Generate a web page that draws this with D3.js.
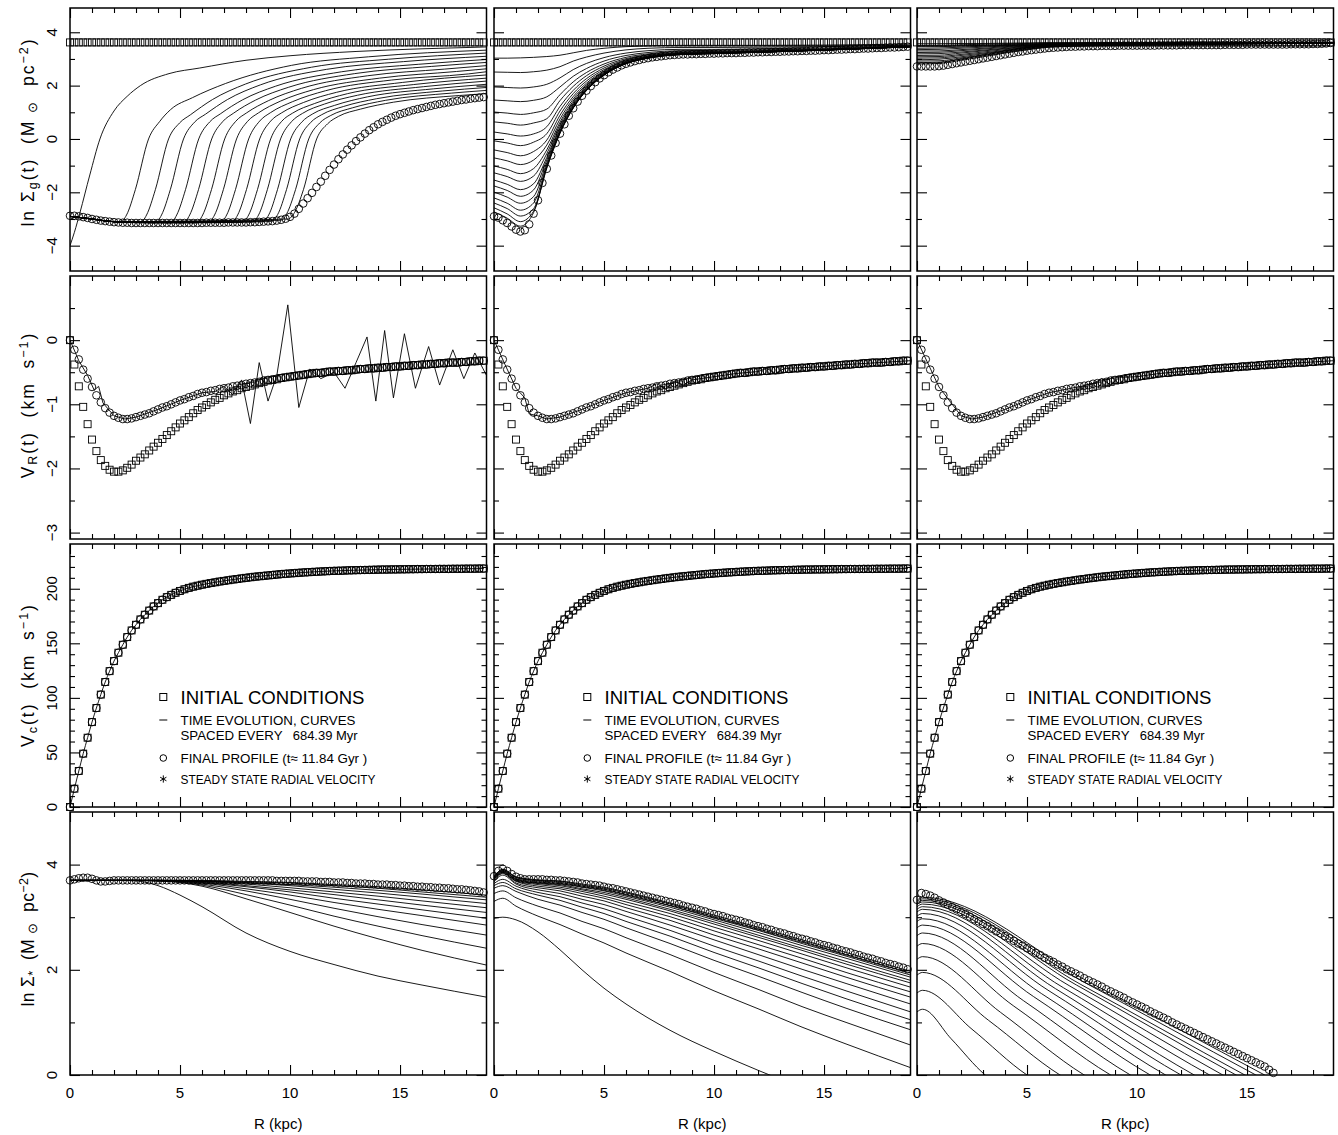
<!DOCTYPE html>
<html>
<head>
<meta charset="utf-8">
<script src="https://cdn.jsdelivr.net/npm/d3@7"></script>
<style>
  html, body { margin: 0; padding: 0; background: #fff; }
  svg text { font-family: "Liberation Sans", Arial, sans-serif; fill: #000; }
</style>
</head>
<body>
<svg id="chart" width="1338" height="1135"></svg>
<script>
// ====================== DATA ======================
// marker sampling radii (kpc): 0, 0.2, ... 18.8
const radiusGrid = d3.range(95).map(i => +(i * 0.2).toFixed(1));

const xMajorTicks = [0, 5, 10, 15];
const xTickLabels = ["0", "5", "10", "15"];
const yMajorTicks = [[-4, -2, 0, 2, 4], [-3, -2, -1, 0], [0, 50, 100, 150, 200], [0, 2, 4]];
const yTickLabels = [["−4", "−2", "0", "2", "4"], ["−3", "−2", "−1", "0"], ["0", "50", "100", "150", "200"], ["0", "2", "4"]];
const yMinorTicks = [[-3, -1, 1, 3], [-2.5, -1.5, -0.5, 0.5],
  [10, 20, 30, 40, 60, 70, 80, 90, 110, 120, 130, 140, 160, 170, 180, 190, 210, 220, 230], [1, 3]];
const yDomains = [[-4.95, 4.91], [-3.1, 1.0], [0, 241], [0, 5]];

const legendLines = ["INITIAL CONDITIONS", "TIME EVOLUTION, CURVES", "SPACED EVERY", "684.39 Myr",
  "FINAL PROFILE (t≈  11.84 Gyr )", "STEADY STATE RADIAL VELOCITY"];

// ---- Row 1: ln Sigma_gas ----
const gasInit = [
 3.62,3.62,3.62,3.62,3.62,3.62,3.62,3.62,3.62,3.62,
 3.62,3.62,3.62,3.62,3.62,3.62,3.62,3.62,3.62,3.62,
 3.62,3.62,3.62,3.62,3.62,3.62,3.62,3.62,3.62,3.62,
 3.62,3.62,3.62,3.62,3.62,3.62,3.62,3.62,3.62,3.62,
 3.62,3.62,3.62,3.62,3.62,3.62,3.62,3.62,3.62,3.62,
 3.62,3.62,3.62,3.62,3.62,3.62,3.62,3.62,3.62,3.62,
 3.62,3.62,3.62,3.62,3.62,3.62,3.62,3.62,3.62,3.62,
 3.62,3.62,3.62,3.62,3.62,3.62,3.62,3.62,3.62,3.62,
 3.62,3.62,3.62,3.62,3.62,3.62,3.62,3.62,3.62,3.62,
 3.62,3.62,3.62,3.62,3.62];

const gasFinal1 = [
 -2.88,-2.88,-2.90,-2.93,-2.96,-3.00,-3.03,-3.06,-3.08,-3.10,
 -3.12,-3.13,-3.14,-3.14,-3.15,-3.15,-3.15,-3.15,-3.15,-3.15,
 -3.15,-3.15,-3.15,-3.15,-3.15,-3.15,-3.15,-3.15,-3.15,-3.15,
 -3.15,-3.14,-3.14,-3.14,-3.14,-3.14,-3.13,-3.13,-3.13,-3.13,
 -3.13,-3.12,-3.12,-3.11,-3.10,-3.09,-3.08,-3.06,-3.03,-2.99,
 -2.92,-2.80,-2.62,-2.42,-2.22,-2.02,-1.80,-1.60,-1.38,-1.16,
 -0.96,-0.76,-0.58,-0.40,-0.24,-0.08,0.06,0.20,0.33,0.44,
 0.55,0.64,0.72,0.80,0.87,0.93,0.98,1.03,1.08,1.12,
 1.16,1.20,1.24,1.28,1.31,1.34,1.37,1.40,1.43,1.46,
 1.48,1.51,1.53,1.55,1.57];

const gasFinal2 = [
 -2.90,-2.95,-3.05,-3.15,-3.28,-3.40,-3.47,-3.42,-3.20,-2.80,
 -2.30,-1.65,-1.12,-0.62,-0.15,0.20,0.55,0.87,1.15,1.40,
 1.62,1.81,1.98,2.13,2.27,2.39,2.50,2.60,2.68,2.76,
 2.82,2.87,2.92,2.96,3.00,3.03,3.06,3.08,3.10,3.12,
 3.14,3.15,3.16,3.17,3.17,3.18,3.18,3.19,3.19,3.20,
 3.20,3.21,3.21,3.22,3.22,3.22,3.23,3.23,3.24,3.24,
 3.25,3.25,3.26,3.26,3.27,3.27,3.28,3.28,3.29,3.29,
 3.30,3.30,3.31,3.31,3.32,3.33,3.33,3.34,3.35,3.35,
 3.36,3.37,3.37,3.38,3.39,3.39,3.40,3.41,3.41,3.42,
 3.43,3.43,3.44,3.45,3.46];

const gasFinal3 = [
 2.72,2.72,2.72,2.72,2.72,2.73,2.75,2.78,2.81,2.84,
 2.87,2.90,2.93,2.96,2.99,3.02,3.05,3.08,3.11,3.14,
 3.17,3.20,3.23,3.26,3.28,3.31,3.33,3.35,3.37,3.39,
 3.41,3.42,3.43,3.44,3.45,3.46,3.46,3.47,3.47,3.48,
 3.48,3.48,3.49,3.49,3.49,3.49,3.50,3.50,3.50,3.50,
 3.50,3.50,3.50,3.50,3.50,3.51,3.51,3.51,3.51,3.51,
 3.52,3.52,3.52,3.52,3.52,3.52,3.52,3.52,3.52,3.52,
 3.53,3.53,3.53,3.53,3.53,3.54,3.54,3.54,3.54,3.54,
 3.54,3.54,3.54,3.54,3.54,3.55,3.55,3.55,3.55,3.55,
 3.56,3.56,3.57,3.58,3.60];

// time-evolution curves, column 1: [R, ln Sigma] knots
const gasCurves1 = [
 [[0,-4.0],[0.2,-3.5],[0.45,-2.77],[0.9,-1.35],[1.36,0],[2.0,1.05],[2.6,1.6],[3.2,2.0],[4.5,2.45],[5.9,2.66],[8,2.95],[10,3.12],[13,3.28],[16,3.38],[18.93,3.45]],
 [[0,-2.9],[1,-3.0],[2.27,-3.12],[2.57,-2.85],[2.97,-1.9],[3.57,0],[4.07,0.65],[4.57,1.1],[5.57,1.55],[7.07,2.08],[10.07,2.76],[13.57,3.08],[18.93,3.33]],
 [[0,-2.9],[1,-3.0],[2,-3.1],[3.18,-3.14],[3.48,-2.85],[3.88,-1.9],[4.48,0],[4.98,0.60],[5.48,0.91],[6.48,1.48],[7.98,2.06],[10.98,2.69],[14.48,2.99],[18.93,3.22]],
 [[0,-2.9],[1,-3.0],[2,-3.1],[3.86,-3.15],[4.16,-2.85],[4.56,-1.9],[5.16,0],[5.66,0.63],[6.16,0.93],[7.16,1.48],[8.66,2.03],[11.66,2.61],[15.16,2.90],[18.93,3.10]],
 [[0,-2.9],[1,-3.0],[2,-3.1],[4.55,-3.15],[4.85,-2.85],[5.25,-1.9],[5.85,0],[6.35,0.64],[6.85,0.95],[7.85,1.47],[9.35,1.98],[12.35,2.52],[15.85,2.80],[18.93,2.98]],
 [[0,-2.9],[1,-3.0],[2,-3.1],[5.14,-3.15],[5.44,-2.85],[5.84,-1.9],[6.44,0],[6.94,0.65],[7.44,0.97],[8.44,1.46],[9.94,1.94],[12.94,2.45],[16.44,2.72],[18.93,2.87]],
 [[0,-2.9],[1,-3.0],[2,-3.1],[5.73,-3.15],[6.03,-2.85],[6.43,-1.9],[7.03,0],[7.53,0.66],[8.03,0.98],[9.03,1.44],[10.53,1.90],[13.53,2.37],[17.03,2.62],[18.93,2.75]],
 [[0,-2.9],[1,-3.0],[2,-3.1],[6.27,-3.14],[6.57,-2.85],[6.97,-1.9],[7.57,0],[8.07,0.66],[8.57,0.98],[9.57,1.42],[11.07,1.85],[14.07,2.28],[17.57,2.53],[18.93,2.63]],
 [[0,-2.9],[1,-3.0],[2,-3.1],[6.82,-3.14],[7.12,-2.85],[7.52,-1.9],[8.12,0],[8.62,0.67],[9.12,0.99],[10.12,1.40],[11.62,1.81],[14.62,2.21],[18.12,2.44],[18.93,2.52]],
 [[0,-2.9],[1,-3.0],[2,-3.1],[7.32,-3.13],[7.62,-2.85],[8.02,-1.9],[8.62,0],[9.12,0.67],[9.62,0.98],[10.62,1.37],[12.12,1.75],[15.12,2.12],[18.93,2.40]],
 [[0,-2.9],[1,-3.0],[2,-3.1],[7.82,-3.13],[8.12,-2.85],[8.52,-1.9],[9.12,0],[9.62,0.66],[10.12,0.97],[11.12,1.33],[12.62,1.70],[15.62,2.04],[18.93,2.28]],
 [[0,-2.9],[1,-3.0],[2,-3.1],[8.27,-3.12],[8.57,-2.85],[8.97,-1.9],[9.57,0],[10.07,0.65],[10.57,0.96],[11.57,1.31],[13.07,1.64],[16.07,1.96],[18.93,2.17]],
 [[0,-2.9],[1,-3.0],[2,-3.1],[8.73,-3.11],[9.03,-2.85],[9.43,-1.9],[10.03,0],[10.53,0.63],[11.03,0.94],[12.03,1.26],[13.53,1.58],[16.53,1.88],[18.93,2.05]],
 [[0,-2.9],[1,-3.0],[2,-3.1],[9.14,-3.09],[9.44,-2.83],[9.84,-1.9],[10.44,0],[10.94,0.62],[11.44,0.91],[12.44,1.22],[13.94,1.51],[16.94,1.80],[18.93,1.93]],
 [[0,-2.9],[1,-3.0],[2,-3.1],[9.55,-3.05],[9.85,-2.8],[10.25,-1.9],[10.85,0],[11.35,0.60],[11.85,0.88],[12.85,1.17],[14.35,1.45],[17.35,1.72],[18.93,1.82]],
 [[0,-2.9],[1,-3.0],[2,-3.1],[9.91,-3.0],[10.21,-2.75],[10.61,-1.9],[11.21,0],[11.71,0.57],[12.21,0.85],[13.21,1.12],[14.71,1.38],[17.71,1.63],[18.93,1.70]]
];

// column 2 curves, sampled at common radii
const gasKnots2 = [0,0.6,1.2,1.8,2.4,3,3.6,4.2,5,6,7,8.5,10,12,15,18.93];
const gasCurves2 = [
 [3.03,3.03,3.04,3.06,3.09,3.14,3.23,3.32,3.40,3.46,3.49,3.51,3.51,3.51,3.52,3.56],
 [2.51,2.50,2.49,2.52,2.58,2.71,2.92,3.07,3.22,3.34,3.40,3.43,3.43,3.44,3.46,3.52],
 [1.95,1.93,1.91,1.95,2.05,2.29,2.60,2.83,3.05,3.22,3.31,3.36,3.36,3.38,3.41,3.49],
 [1.46,1.43,1.40,1.45,1.58,1.95,2.35,2.64,2.92,3.13,3.24,3.31,3.32,3.34,3.38,3.48],
 [1.01,0.97,0.92,0.98,1.12,1.66,2.14,2.49,2.81,3.06,3.19,3.27,3.28,3.31,3.36,3.47],
 [0.64,0.59,0.52,0.60,0.76,1.44,1.97,2.37,2.73,3.01,3.15,3.24,3.26,3.29,3.35,3.47],
 [0.26,0.19,0.11,0.19,0.46,1.22,1.82,2.26,2.66,2.97,3.12,3.22,3.24,3.28,3.34,3.47],
 [-0.07,-0.15,-0.25,-0.12,0.20,1.05,1.70,2.17,2.60,2.93,3.10,3.21,3.23,3.27,3.34,3.46],
 [-0.41,-0.51,-0.63,-0.47,-0.04,0.89,1.59,2.09,2.55,2.91,3.08,3.19,3.22,3.26,3.34,3.46],
 [-0.71,-0.82,-0.96,-0.79,-0.23,0.75,1.50,2.03,2.51,2.88,3.07,3.185,3.22,3.26,3.335,3.46],
 [-1.01,-1.14,-1.30,-1.11,-0.41,0.63,1.42,1.98,2.48,2.865,3.055,3.18,3.215,3.255,3.335,3.46],
 [-1.27,-1.41,-1.59,-1.39,-0.55,0.54,1.35,1.93,2.46,2.85,3.05,3.18,3.21,3.255,3.335,3.46],
 [-1.54,-1.70,-1.90,-1.68,-0.69,0.45,1.30,1.90,2.44,2.84,3.045,3.175,3.21,3.255,3.335,3.46],
 [-1.76,-1.93,-2.15,-1.91,-0.79,0.39,1.26,1.87,2.42,2.835,3.04,3.17,3.205,3.255,3.335,3.46],
 [-1.99,-2.18,-2.41,-2.16,-0.89,0.33,1.22,1.85,2.41,2.83,3.035,3.17,3.205,3.255,3.335,3.46],
 [-2.21,-2.41,-2.67,-2.40,-0.97,0.28,1.19,1.84,2.40,2.83,3.035,3.17,3.205,3.25,3.335,3.46],
 [-2.40,-2.61,-2.89,-2.61,-1.03,0.25,1.17,1.83,2.40,2.83,3.035,3.17,3.205,3.25,3.335,3.46],
 [-2.58,-2.81,-3.10,-2.71,-1.07,0.22,1.16,1.82,2.39,2.83,3.035,3.17,3.2,3.25,3.33,3.46],
 [-2.73,-2.97,-3.27,-2.76,-1.10,0.21,1.155,1.81,2.39,2.82,3.03,3.17,3.2,3.25,3.33,3.46]
];

// column 3 curves
const gasKnots3 = [0,1,2,3,4,5,6,8,12,18.93];
const gasCurves3 = [
 [3.57,3.57,3.58,3.58,3.59,3.60,3.61,3.61,3.61,3.62],
 [3.51,3.51,3.53,3.55,3.57,3.58,3.60,3.60,3.61,3.62],
 [3.46,3.46,3.49,3.51,3.54,3.56,3.58,3.59,3.60,3.62],
 [3.40,3.41,3.44,3.48,3.51,3.55,3.57,3.59,3.60,3.62],
 [3.35,3.36,3.40,3.44,3.49,3.53,3.56,3.58,3.59,3.61],
 [3.30,3.30,3.35,3.40,3.46,3.51,3.55,3.57,3.58,3.61],
 [3.24,3.25,3.31,3.37,3.43,3.49,3.54,3.56,3.58,3.61],
 [3.19,3.20,3.26,3.33,3.40,3.47,3.52,3.55,3.57,3.61],
 [3.13,3.14,3.22,3.30,3.38,3.45,3.51,3.54,3.57,3.61],
 [3.08,3.09,3.17,3.26,3.35,3.43,3.50,3.54,3.56,3.61],
 [3.03,3.04,3.13,3.22,3.32,3.42,3.49,3.53,3.55,3.61],
 [2.97,2.99,3.08,3.19,3.30,3.40,3.48,3.52,3.55,3.61],
 [2.92,2.93,3.04,3.15,3.27,3.38,3.46,3.51,3.54,3.60],
 [2.86,2.88,2.99,3.12,3.24,3.36,3.45,3.50,3.54,3.60],
 [2.81,2.83,2.95,3.08,3.22,3.34,3.44,3.49,3.53,3.60]
];

// ---- Row 2: radial velocity ----
const vrInit = [
 0,-0.38,-0.72,-1.04,-1.31,-1.55,-1.73,-1.87,-1.96,-2.02,
 -2.05,-2.05,-2.03,-1.99,-1.94,-1.88,-1.83,-1.78,-1.72,-1.66,
 -1.60,-1.54,-1.48,-1.42,-1.36,-1.30,-1.25,-1.20,-1.14,-1.09,
 -1.05,-1.01,-0.97,-0.93,-0.90,-0.86,-0.83,-0.80,-0.78,-0.75,
 -0.73,-0.71,-0.69,-0.67,-0.65,-0.63,-0.62,-0.61,-0.59,-0.58,
 -0.57,-0.56,-0.55,-0.54,-0.53,-0.52,-0.51,-0.51,-0.50,-0.49,
 -0.49,-0.48,-0.48,-0.47,-0.47,-0.46,-0.45,-0.45,-0.44,-0.44,
 -0.43,-0.43,-0.42,-0.42,-0.41,-0.41,-0.40,-0.40,-0.39,-0.39,
 -0.38,-0.38,-0.37,-0.37,-0.36,-0.36,-0.35,-0.35,-0.35,-0.34,
 -0.34,-0.33,-0.33,-0.32,-0.32];

const vrFinal = [
 0,-0.15,-0.30,-0.46,-0.60,-0.73,-0.86,-0.97,-1.06,-1.13,
 -1.18,-1.21,-1.23,-1.23,-1.22,-1.20,-1.18,-1.16,-1.14,-1.11,
 -1.08,-1.05,-1.03,-1.00,-0.97,-0.94,-0.92,-0.89,-0.87,-0.84,
 -0.82,-0.81,-0.79,-0.78,-0.76,-0.75,-0.74,-0.72,-0.71,-0.70,
 -0.68,-0.67,-0.66,-0.65,-0.63,-0.62,-0.61,-0.60,-0.59,-0.58,
 -0.57,-0.56,-0.55,-0.54,-0.53,-0.52,-0.51,-0.51,-0.50,-0.49,
 -0.49,-0.48,-0.48,-0.47,-0.47,-0.46,-0.45,-0.45,-0.44,-0.44,
 -0.43,-0.43,-0.42,-0.42,-0.41,-0.41,-0.40,-0.40,-0.39,-0.39,
 -0.38,-0.38,-0.37,-0.37,-0.36,-0.36,-0.35,-0.35,-0.35,-0.34,
 -0.34,-0.33,-0.33,-0.32,-0.32];

const vrLine1 = [[0,0],[0.4,-0.32],[0.8,-0.55],[1.1,-0.78],[1.3,-0.72],[1.5,-0.98],[2,-1.18],[2.5,-1.23],[3,-1.2],[4,-1.08],[5,-0.94],[6,-0.82],[6.6,-0.8],[7.0,-0.72],[7.4,-0.85],[7.8,-0.62],[8.2,-1.3],[8.6,-0.35],[9.0,-0.95],[9.4,-0.55],[9.9,0.55],[10.4,-1.05],[10.9,-0.45],[11.4,-0.6],[12,-0.5],[12.5,-0.75],[13.0,-0.35],[13.5,0.05],[13.9,-0.95],[14.3,0.15],[14.7,-0.9],[15.2,0.1],[15.7,-0.75],[16.3,-0.1],[16.8,-0.7],[17.4,-0.15],[17.9,-0.6],[18.4,-0.2],[18.93,-0.55]];
const vrLine2 = [[0,0],[0.5,-0.38],[1,-0.75],[1.4,-0.9],[1.6,-1.15],[2,-1.18],[2.4,-1.23],[3,-1.2],[4,-1.08],[5,-0.94],[6,-0.82],[7,-0.75],[7.4,-0.68],[7.8,-0.76],[8.2,-0.64],[8.6,-0.70],[9,-0.62],[10,-0.57],[11,-0.52],[12,-0.49],[12.4,-0.44],[12.8,-0.52],[13.2,-0.44],[14,-0.43],[15,-0.41],[16,-0.38],[17,-0.36],[18,-0.34],[18.93,-0.32]];
const vrLine3 = [[0,0],[1,-0.73],[2,-1.18],[2.5,-1.23],[3,-1.2],[4,-1.08],[5,-0.94],[6,-0.82],[7,-0.75],[8,-0.68],[8.4,-0.6],[8.8,-0.7],[9.2,-0.58],[10,-0.57],[11,-0.52],[12,-0.49],[13,-0.46],[14,-0.43],[15,-0.41],[16,-0.38],[17,-0.36],[18,-0.34],[18.93,-0.32]];

// ---- Row 3: circular velocity ----
const vcurve = [
 0,16.8,33.0,48.9,63.5,77.8,90.7,103.0,114.5,124.5,
 133.7,141.4,148.7,155.7,161.8,167.0,171.9,176.2,180.0,183.8,
 186.8,189.9,192.3,194.4,196.3,198.0,199.5,200.8,201.9,202.8,
 203.7,204.5,205.2,205.9,206.6,207.2,207.8,208.4,208.9,209.5,
 210.0,210.5,211.0,211.4,211.8,212.2,212.6,213.0,213.4,213.7,
 214.0,214.3,214.6,214.9,215.1,215.4,215.6,215.8,216.0,216.2,
 216.4,216.5,216.6,216.8,216.9,217.0,217.1,217.2,217.3,217.4,
 217.5,217.6,217.6,217.7,217.7,217.8,217.8,217.9,217.9,218.0,
 218.0,218.1,218.1,218.1,218.2,218.2,218.2,218.3,218.3,218.3,
 218.4,218.4,218.4,218.5,218.5];

// ---- Row 4: ln Sigma_star ----
const starFinal1 = [
 3.70,3.72,3.74,3.75,3.75,3.73,3.70,3.68,3.68,3.69,
 3.70,3.70,3.70,3.70,3.70,3.70,3.70,3.70,3.70,3.70,
 3.70,3.70,3.70,3.70,3.70,3.70,3.70,3.70,3.70,3.70,
 3.70,3.70,3.70,3.70,3.70,3.70,3.70,3.70,3.70,3.70,
 3.70,3.70,3.70,3.70,3.70,3.70,3.70,3.69,3.69,3.69,
 3.69,3.69,3.69,3.68,3.68,3.68,3.68,3.67,3.67,3.67,
 3.66,3.66,3.66,3.65,3.65,3.64,3.64,3.64,3.63,3.63,
 3.62,3.62,3.62,3.61,3.61,3.60,3.60,3.59,3.59,3.58,
 3.58,3.57,3.57,3.56,3.56,3.55,3.55,3.54,3.53,3.53,
 3.52,3.51,3.50,3.49,3.47];

const starFinal2 = [
 3.78,3.88,3.92,3.88,3.82,3.77,3.74,3.72,3.72,3.72,
 3.72,3.72,3.71,3.71,3.70,3.70,3.69,3.68,3.67,3.66,
 3.64,3.63,3.62,3.61,3.60,3.58,3.56,3.55,3.53,3.51,
 3.49,3.47,3.45,3.43,3.41,3.39,3.37,3.35,3.33,3.31,
 3.29,3.27,3.25,3.22,3.20,3.18,3.16,3.13,3.11,3.08,
 3.06,3.04,3.02,2.99,2.97,2.95,2.93,2.90,2.88,2.85,
 2.83,2.81,2.78,2.76,2.73,2.71,2.69,2.66,2.64,2.61,
 2.59,2.57,2.54,2.52,2.49,2.47,2.45,2.42,2.40,2.37,
 2.35,2.33,2.30,2.28,2.25,2.23,2.21,2.18,2.16,2.13,
 2.11,2.09,2.06,2.04,2.01];

const starFinal3 = [
 3.33,3.46,3.44,3.41,3.37,3.32,3.28,3.24,3.19,3.15,
 3.10,3.06,3.01,2.96,2.92,2.87,2.83,2.78,2.73,2.69,
 2.64,2.60,2.55,2.50,2.46,2.41,2.37,2.32,2.28,2.23,
 2.19,2.15,2.10,2.06,2.01,1.97,1.93,1.89,1.84,1.80,
 1.76,1.72,1.68,1.63,1.59,1.55,1.51,1.47,1.42,1.38,
 1.34,1.30,1.26,1.21,1.17,1.13,1.09,1.05,1.00,0.96,
 0.92,0.88,0.84,0.80,0.76,0.72,0.68,0.64,0.60,0.56,
 0.52,0.48,0.44,0.40,0.36,0.32,0.28,0.24,0.20,0.16,
 0.10,0.04];

const starKnots1 = [0,2,3,4,5,6,8,10,12,14,16,18.93];
const starCurves1 = [
 [3.70,3.70,3.69,3.60,3.42,3.20,2.70,2.35,2.10,1.88,1.71,1.48],
 [3.70,3.70,3.70,3.69,3.66,3.59,3.35,3.09,2.83,2.59,2.37,2.09],
 [3.70,3.70,3.70,3.69,3.67,3.61,3.43,3.23,3.02,2.83,2.65,2.41],
 [3.70,3.70,3.70,3.69,3.68,3.63,3.50,3.34,3.17,3.01,2.86,2.66],
 [3.70,3.70,3.70,3.69,3.68,3.65,3.54,3.42,3.28,3.15,3.03,2.85],
 [3.70,3.70,3.70,3.70,3.69,3.66,3.58,3.48,3.36,3.25,3.14,2.98],
 [3.70,3.70,3.70,3.70,3.69,3.67,3.60,3.52,3.43,3.33,3.23,3.09],
 [3.70,3.70,3.70,3.70,3.69,3.68,3.63,3.56,3.48,3.40,3.31,3.18],
 [3.70,3.70,3.70,3.70,3.69,3.68,3.65,3.60,3.53,3.46,3.38,3.26],
 [3.70,3.70,3.70,3.70,3.70,3.69,3.66,3.62,3.57,3.51,3.44,3.33],
 [3.70,3.70,3.70,3.70,3.70,3.69,3.67,3.65,3.60,3.55,3.48,3.38],
 [3.70,3.70,3.70,3.70,3.70,3.70,3.68,3.66,3.62,3.58,3.52,3.42]
];

const starKnots2 = [0,0.4,1,2,3,4,5,6,8,10,12,14,16,18.93];
const starCurves2 = [
 [2.98,3.00,2.95,2.72,2.38,2.00,1.65,1.35,0.85,0.45,0.09,-0.25,-0.6,-1.1],
 [3.30,3.36,3.21,3.02,2.86,2.68,2.51,2.32,1.97,1.60,1.26,0.91,0.59,0.14],
 [3.45,3.50,3.37,3.21,3.08,2.92,2.78,2.61,2.29,1.95,1.63,1.30,1.00,0.57],
 [3.55,3.60,3.49,3.34,3.23,3.09,2.96,2.80,2.50,2.18,1.88,1.57,1.27,0.86],
 [3.60,3.66,3.54,3.42,3.32,3.19,3.07,2.92,2.64,2.33,2.04,1.74,1.45,1.05],
 [3.64,3.72,3.59,3.47,3.39,3.27,3.16,3.02,2.75,2.45,2.17,1.88,1.60,1.20],
 [3.67,3.80,3.63,3.52,3.45,3.34,3.24,3.11,2.85,2.57,2.29,2.01,1.74,1.35],
 [3.69,3.83,3.65,3.56,3.50,3.40,3.31,3.18,2.94,2.66,2.40,2.13,1.86,1.48],
 [3.71,3.85,3.68,3.59,3.54,3.45,3.36,3.24,3.01,2.74,2.48,2.22,1.95,1.58],
 [3.72,3.86,3.69,3.62,3.57,3.49,3.40,3.29,3.07,2.81,2.56,2.30,2.04,1.67],
 [3.73,3.87,3.71,3.64,3.60,3.52,3.44,3.34,3.12,2.87,2.62,2.37,2.11,1.75],
 [3.74,3.88,3.72,3.65,3.62,3.54,3.47,3.37,3.15,2.91,2.66,2.41,2.16,1.80],
 [3.75,3.89,3.73,3.67,3.64,3.57,3.50,3.40,3.19,2.95,2.71,2.46,2.22,1.86],
 [3.76,3.90,3.75,3.69,3.66,3.59,3.53,3.43,3.22,2.98,2.75,2.50,2.26,1.90],
 [3.77,3.91,3.76,3.70,3.68,3.61,3.55,3.46,3.25,3.01,2.78,2.54,2.29,1.94],
 [3.77,3.91,3.77,3.71,3.69,3.63,3.57,3.48,3.27,3.04,2.81,2.57,2.33,1.97]
];

const starCurves3 = [
 [[0,1.20],[0.25,1.25],[1.55,0.69],[3.1,0],[5.1,-0.45]],
 [[0,1.56],[0.25,1.61],[2.5,0.87],[5.0,0],[7,-0.45]],
 [[0,1.90],[0.25,1.95],[3.25,1.04],[6.5,0],[8.5,-0.45]],
 [[0,2.20],[0.25,2.25],[3.8,1.19],[7.6,0],[9.6,-0.45]],
 [[0,2.45],[0.25,2.50],[4.4,1.31],[8.8,0],[10.8,-0.45]],
 [[0,2.65],[0.25,2.70],[4.85,1.41],[9.7,0],[11.7,-0.45]],
 [[0,2.80],[0.25,2.85],[5.3,1.49],[10.6,0],[12.6,-0.45]],
 [[0,2.92],[0.25,2.97],[5.65,1.55],[11.3,0],[13.3,-0.45]],
 [[0,3.02],[0.25,3.07],[6.0,1.60],[12.0,0],[14,-0.45]],
 [[0,3.10],[0.25,3.15],[6.3,1.64],[12.6,0],[14.6,-0.45]],
 [[0,3.15],[0.25,3.20],[6.65,1.66],[13.3,0],[15.3,-0.45]],
 [[0,3.20],[0.25,3.25],[6.95,1.69],[13.9,0],[15.9,-0.45]],
 [[0,3.24],[0.25,3.29],[7.25,1.71],[14.5,0],[16.5,-0.45]],
 [[0,3.27],[0.25,3.32],[7.45,1.72],[14.9,0],[16.9,-0.45]],
 [[0,3.30],[0.25,3.35],[7.7,1.74],[15.4,0],[17.4,-0.45]],
 [[0,3.32],[0.25,3.38],[7.9,1.75],[15.8,0],[17.8,-0.45]]
];

// ====================== LAYOUT ======================
const COL_LEFT = [70, 494, 917];
const PANEL_W = 416.5;
const ROW_TOP = [8, 276, 544, 812];
const PANEL_H = 263;
const X_MAX = 18.93;

const svg = d3.select("#chart");
const defs = svg.append("defs");
svg.append("rect").attr("width", 1338).attr("height", 1135).attr("fill", "#fff");

const zipKnots = (knots, vals) => knots.map((r, i) => [r, vals[i]]).filter(d => d[1] !== undefined);
const zipGrid = vals => vals.map((v, i) => [radiusGrid[i], v]);

function drawPanel(row, col, spec) {
  const left = COL_LEFT[col], top = ROW_TOP[row];
  const x = d3.scaleLinear().domain([0, X_MAX]).range([left, left + PANEL_W]);
  const y = d3.scaleLinear().domain(yDomains[row]).range([top + PANEL_H, top]);
  const id = `clip${row}${col}`;
  defs.append("clipPath").attr("id", id).append("rect")
    .attr("x", left).attr("y", top).attr("width", PANEL_W).attr("height", PANEL_H);
  const g = svg.append("g");
  const lg = g.append("g").attr("clip-path", `url(#${id})`);
  const smooth = d3.line().x(d => x(d[0])).y(d => y(d[1])).curve(d3.curveMonotoneX);
  const straight = d3.line().x(d => x(d[0])).y(d => y(d[1]));
  (spec.curves || []).forEach(c => lg.append("path").attr("d", smooth(c))
    .attr("fill", "none").attr("stroke", "#000").attr("stroke-width", 0.9));
  (spec.zigzag || []).forEach(c => lg.append("path").attr("d", straight(c))
    .attr("fill", "none").attr("stroke", "#000").attr("stroke-width", 0.9));
  if (spec.squares) {
    g.append("g").selectAll("rect").data(zipGrid(spec.squares)).join("rect")
      .attr("x", d => x(d[0]) - 3.5).attr("y", d => y(d[1]) - 3.5)
      .attr("width", 7).attr("height", 7)
      .attr("fill", "none").attr("stroke", "#000").attr("stroke-width", 0.9);
  }
  if (spec.circles) {
    g.append("g").selectAll("circle").data(zipGrid(spec.circles)).join("circle")
      .attr("cx", d => x(d[0])).attr("cy", d => y(d[1])).attr("r", 3.8)
      .attr("fill", "none").attr("stroke", "#000").attr("stroke-width", 0.9);
  }
  // ticks on all four sides, pointing inward
  const xMinor = d3.range(1, 19).filter(v => v % 5 !== 0);
  const ax = g.append("g").attr("color", "#000");
  const addAxis = (axis, tr, size, vals) => ax.append("g").attr("transform", tr)
    .call(axis.tickValues(vals).tickSize(size).tickFormat(() => ""))
    .call(s => s.select(".domain").remove())
    .call(s => s.selectAll("line").attr("stroke-width", 1.1));
  addAxis(d3.axisBottom(x), `translate(0,${top + PANEL_H})`, -10, xMajorTicks);
  addAxis(d3.axisBottom(x), `translate(0,${top + PANEL_H})`, -5, xMinor);
  addAxis(d3.axisTop(x), `translate(0,${top})`, -10, xMajorTicks);
  addAxis(d3.axisTop(x), `translate(0,${top})`, -5, xMinor);
  addAxis(d3.axisLeft(y), `translate(${left},0)`, -10, yMajorTicks[row]);
  addAxis(d3.axisLeft(y), `translate(${left},0)`, -5, yMinorTicks[row]);
  addAxis(d3.axisRight(y), `translate(${left + PANEL_W},0)`, -10, yMajorTicks[row]);
  addAxis(d3.axisRight(y), `translate(${left + PANEL_W},0)`, -5, yMinorTicks[row]);
  g.append("rect").attr("x", left).attr("y", top).attr("width", PANEL_W).attr("height", PANEL_H)
    .attr("fill", "none").attr("stroke", "#000").attr("stroke-width", 1.5);

  if (col === 0) {
    yMajorTicks[row].forEach((v, i) => {
      g.append("text").attr("transform", `translate(52,${y(v)}) rotate(-90)`)
        .attr("text-anchor", "middle").attr("dy", "0.36em").attr("font-size", 15)
        .text(yTickLabels[row][i]);
    });
  }
  if (row === 3) {
    xMajorTicks.forEach((v, i) => {
      g.append("text").attr("x", x(v)).attr("y", 1097.5).attr("text-anchor", "middle")
        .attr("font-size", 15).text(xTickLabels[i]);
    });
    g.append("text").attr("x", left + PANEL_W / 2).attr("y", 1128.5).attr("text-anchor", "middle")
      .attr("font-size", 15).text("R (kpc)");
  }
  return { x, y, g };
}

function legend(col) {
  const L = COL_LEFT[col];
  const g = svg.append("g");
  g.append("rect").attr("x", L + 89.8).attr("y", 693.5).attr("width", 7).attr("height", 7)
    .attr("fill", "none").attr("stroke", "#000").attr("stroke-width", 1);
  g.append("line").attr("x1", L + 89.3).attr("x2", L + 97.3).attr("y1", 720).attr("y2", 720)
    .attr("stroke", "#000").attr("stroke-width", 1);
  g.append("circle").attr("cx", L + 93.3).attr("cy", 758).attr("r", 3.3)
    .attr("fill", "none").attr("stroke", "#000").attr("stroke-width", 1);
  const ac = [L + 93.3, 779];
  [90, 30, 150].forEach(a => {
    const r = a * Math.PI / 180, dx = 3.6 * Math.cos(r), dy = 3.6 * Math.sin(r);
    g.append("line").attr("x1", ac[0] - dx).attr("x2", ac[0] + dx).attr("y1", ac[1] - dy).attr("y2", ac[1] + dy)
      .attr("stroke", "#000").attr("stroke-width", 1);
  });
  const rows = [
    [legendLines[0], 110.5, 704, 184, 18],
    [legendLines[1], 110.5, 725, 175, 13.5],
    [legendLines[2], 110.5, 740, 102, 13.5],
    [legendLines[3], 222.7, 740, 65, 13.5],
    [legendLines[4], 110.5, 763, 186.7, 13.5],
    [legendLines[5], 110.5, 784, 195, 13.5]
  ];
  rows.forEach(([t, dx, by, w, fs]) => {
    g.append("text").attr("x", L + dx).attr("y", by).attr("font-size", fs)
      .attr("textLength", w).attr("lengthAdjust", "spacingAndGlyphs").text(t);
  });
}

// ---------------- draw ----------------
const gasSets = [
  gasCurves1,
  gasCurves2.map(v => zipKnots(gasKnots2, v)),
  gasCurves3.map(v => zipKnots(gasKnots3, v))
];
const gasFinals = [gasFinal1, gasFinal2, gasFinal3];
const vrLines = [vrLine1, vrLine2, vrLine3];
const starSets = [
  starCurves1.map(v => zipKnots(starKnots1, v)),
  starCurves2.map(v => zipKnots(starKnots2, v)),
  starCurves3
];
const starFinals = [starFinal1, starFinal2, starFinal3];

for (let c = 0; c < 3; c++) {
  drawPanel(0, c, { curves: gasSets[c], squares: gasInit, circles: gasFinals[c] });
  drawPanel(1, c, { zigzag: [vrLines[c]], squares: vrInit, circles: vrFinal });
  drawPanel(2, c, { curves: [zipGrid(vcurve)], squares: vcurve, circles: vcurve });
  legend(c);
  drawPanel(3, c, { curves: starSets[c], circles: starFinals[c] });
}

// ---------------- y-axis titles ----------------
function yTitle(cy, parts, target) {
  const t = svg.append("text").attr("transform", `translate(28,${cy}) rotate(-90)`)
    .attr("text-anchor", "middle").attr("dy", "0.36em").attr("font-size", 17.5)
    .style("white-space", "pre");
  parts.forEach(([s, kind]) => {
    const ts = t.append("tspan").text(s);
    if (kind === "sub") ts.attr("baseline-shift", "-25%").attr("font-size", 12.5);
    if (kind === "sup") ts.attr("baseline-shift", "45%").attr("font-size", 12.5);
  });
  const len = t.node().getComputedTextLength();
  const n = t.node().textContent.length;
  if (n > 1 && target > len) t.attr("letter-spacing", Math.min(2, (target - len) / n));
}
yTitle(132, [["ln Σ"], ["g", "sub"], ["(t)  (M "], ["⊙", "sub"], ["  pc"], ["−2", "sup"], [")"]], 198);
yTitle(405, [["V"], ["R", "sub"], ["(t)  (km  s"], ["−1", "sup"], [")"]], 147);
yTitle(675, [["V"], ["c", "sub"], ["(t)  (km  s"], ["−1", "sup"], [")"]], 147);
yTitle(939, [["ln Σ"], ["*", "sub"], ["  (M "], ["⊙", "sub"], ["  pc"], ["−2", "sup"], [")"]], 135);
</script>
</body>
</html>
